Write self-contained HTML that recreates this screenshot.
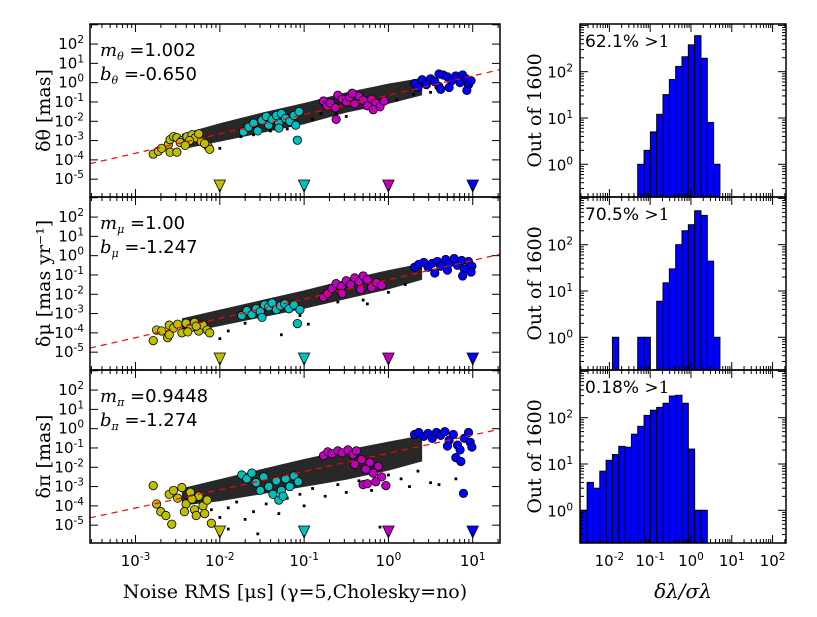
<!DOCTYPE html>
<html><head><meta charset="utf-8"><style>
html,body{margin:0;padding:0;background:#fff;}
svg{display:block;}
text{font-family:"DejaVu Sans","Liberation Sans",sans-serif;}
.serif{font-family:"DejaVu Serif","Liberation Serif",serif;}
</style></head><body>
<svg id="fig" width="817" height="617" viewBox="0 0 817 617" xmlns="http://www.w3.org/2000/svg"></svg>
<script>
// ---------- DATA ----------
const panelTitles = ["δθ [mas]", "δμ [mas yr⁻¹]", "δπ [mas]"];
const slopes = [1.002, 1.00, 0.9448];
const intercepts = [-0.650, -1.247, -1.274];
const slopeLabels = ["1.002", "1.00", "0.9448"];
const interceptLabels = ["-0.650", "-1.247", "-1.274"];
const subs = ["θ", "μ", "π"];
const markerNoise = [0.01, 0.1, 1, 10];
const markerColors = ["#bfbf00", "#00bfbf", "#bf00bf", "#0000ff"];
const xTickExp = [-3, -2, -1, 0, 1];
const yTickExp = [-5, -4, -3, -2, -1, 0, 1, 2];
// black band envelope: log10 x, offsets (decades) from fit line
const bandX = [-2.45, -2, -1.5, -1, -0.5, 0, 0.4];
const bandUp = [[0.45,0.55,0.6,0.6,0.65,0.6,0.5],[0.45,0.45,0.45,0.45,0.5,0.5,0.45],[0.5,0.55,0.6,0.65,0.65,0.6,0.55]];
const bandLo = [[-0.35,-0.4,-0.45,-0.5,-0.4,-0.45,-0.4],[-0.35,-0.4,-0.45,-0.5,-0.5,-0.5,-0.4],[-0.4,-0.6,-0.7,-0.8,-0.9,-0.9,-0.8]];
// outlier black points [log x, log y]
const blackPts = [
 [[-2.0,-3.4],[-1.75,-2.8],[-1.2,-2.4],[-0.9,-1.9],[-0.62,-1.6],[-0.5,-1.75],[0.3,-0.6],[0.5,-0.5],[-1.6,-2.7],[-1.4,-2.5],[-0.8,-1.6],[0.1,-0.9]],
 [[-2.0,-4.3],[-1.27,-4.1],[-1.05,-3.1],[-0.95,-3.55],[-0.3,-2.3],[-0.25,-2.5],[0.2,-1.5],[-1.7,-3.5],[-1.9,-3.9],[-0.6,-2.4],[0.0,-1.9]],
 [[-2.0,-4.6],[-1.9,-4.1],[-1.6,-4.3],[-1.55,-5.45],[-1.3,-4.4],[-1.0,-4.0],[-0.75,-3.5],[-0.5,-3.3],[-0.1,-5.1],[0.25,-3.0],[0.5,-2.8],[0.6,-2.9],[0.8,-2.6],[-1.9,-5.2],[-1.45,-3.9],[-0.2,-3.2],[0.15,-2.6],[-1.8,-3.8],[-1.7,-4.7],[-1.2,-3.6],[-0.9,-3.1],[-0.6,-2.9],[-0.35,-2.7],[0.0,-2.4],[0.35,-2.2],[-2.1,-4.2],[-1.05,-3.4]]
];
const yellowPts = [
 [[-2.79,-3.7],[-2.73,-3.55],[-2.69,-3.4],[-2.61,-3.2],[-2.59,-2.95],[-2.55,-2.8],[-2.51,-2.85],[-2.59,-3.6],[-2.51,-3.6],[-2.45,-3.0],[-2.39,-2.8],[-2.33,-2.7],[-2.29,-2.85],[-2.22,-3.05],[-2.14,-3.3],[-2.12,-3.45],[-2.36,-3.0],[-2.25,-2.65],[-2.18,-3.15],[-2.47,-3.1],[-2.41,-3.25]],
 [[-2.79,-4.4],[-2.75,-3.85],[-2.69,-3.9],[-2.62,-4.25],[-2.6,-3.6],[-2.55,-3.75],[-2.5,-3.55],[-2.45,-4.0],[-2.4,-3.5],[-2.35,-3.75],[-2.3,-3.45],[-2.25,-3.9],[-2.2,-3.6],[-2.15,-3.85],[-2.12,-4.0],[-2.6,-4.1],[-2.38,-3.95],[-2.28,-3.65]],
 [[-2.79,-2.95],[-2.75,-3.9],[-2.7,-4.3],[-2.64,-4.5],[-2.6,-3.4],[-2.57,-4.95],[-2.55,-3.2],[-2.5,-3.6],[-2.45,-3.05],[-2.4,-3.9],[-2.35,-3.3],[-2.3,-4.2],[-2.25,-3.5],[-2.2,-4.0],[-2.18,-4.4],[-2.15,-3.7],[-2.1,-4.9],[-2.42,-4.3],[-2.28,-4.5],[-2.33,-3.65]]
];
const cyanPts = [
 [[-1.72,-2.55],[-1.66,-2.3],[-1.6,-2.1],[-1.55,-2.5],[-1.5,-1.95],[-1.45,-1.75],[-1.42,-2.2],[-1.38,-1.9],[-1.33,-1.7],[-1.3,-2.1],[-1.27,-1.6],[-1.22,-1.85],[-1.17,-2.0],[-1.12,-1.7],[-1.1,-2.2],[-1.06,-1.5],[-1.3,-2.35],[-1.08,-2.98]],
 [[-1.74,-3.1],[-1.68,-2.85],[-1.62,-3.05],[-1.57,-2.75],[-1.52,-2.9],[-1.47,-2.55],[-1.42,-2.65],[-1.38,-2.45],[-1.33,-2.8],[-1.28,-2.6],[-1.23,-2.5],[-1.18,-2.75],[-1.12,-2.55],[-1.05,-2.8],[-1.08,-3.52],[-1.5,-3.2]],
 [[-1.74,-2.4],[-1.68,-2.6],[-1.62,-2.3],[-1.57,-2.8],[-1.52,-3.2],[-1.48,-2.5],[-1.42,-3.0],[-1.37,-3.4],[-1.33,-2.7],[-1.3,-3.7],[-1.27,-3.2],[-1.22,-2.6],[-1.17,-3.0],[-1.12,-2.45],[-1.07,-2.75],[-1.25,-3.5]]
];
const magentaPts = [
 [[-0.77,-0.95],[-0.73,-1.2],[-0.69,-1.05],[-0.63,-1.3],[-0.6,-0.65],[-0.55,-0.85],[-0.5,-1.0],[-0.46,-0.75],[-0.4,-1.1],[-0.35,-0.7],[-0.3,-0.9],[-0.25,-1.2],[-0.2,-0.85],[-0.15,-1.05],[-0.1,-1.25],[-0.05,-0.95],[-0.62,-1.9],[-0.43,-0.55],[-0.18,-1.4]],
 [[-0.77,-2.15],[-0.72,-1.95],[-0.67,-1.7],[-0.62,-1.45],[-0.56,-1.6],[-0.5,-1.3],[-0.45,-1.5],[-0.4,-1.15],[-0.35,-1.35],[-0.3,-1.05],[-0.25,-1.25],[-0.2,-1.65],[-0.14,-1.4],[-0.08,-1.55],[-0.55,-1.95],[-0.33,-1.75]],
 [[-0.77,-1.4],[-0.72,-1.2],[-0.67,-1.3],[-0.6,-1.15],[-0.55,-1.25],[-0.48,-1.1],[-0.42,-1.35],[-0.38,-1.15],[-0.32,-1.6],[-0.27,-2.1],[-0.22,-1.75],[-0.18,-2.3],[-0.12,-1.95],[-0.08,-2.5],[-0.3,-2.9],[-0.25,-2.85],[-0.15,-2.75],[-0.03,-2.95],[-0.4,-1.85]]
];
const bluePts = [
 [[0.31,-0.05],[0.35,-0.25],[0.4,0.15],[0.45,-0.1],[0.5,0.2],[0.55,0.05],[0.6,-0.2],[0.65,0.4],[0.7,0.3],[0.75,0.1],[0.8,0.35],[0.85,0.0],[0.88,0.4],[0.92,0.2],[0.95,-0.1],[0.98,0.1],[0.72,-0.25],[0.62,-0.35],[0.93,-0.4],[0.6,0.45]],
 [[0.31,-0.6],[0.36,-0.45],[0.42,-0.35],[0.47,-0.6],[0.52,-0.4],[0.58,-0.3],[0.62,-0.55],[0.68,-0.2],[0.72,-0.4],[0.78,-0.15],[0.82,-0.5],[0.87,-0.25],[0.9,-0.7],[0.95,-0.3],[0.99,-0.55],[0.88,-1.05],[0.7,-0.75],[0.55,-0.9],[0.98,-0.85]],
 [[0.31,-0.3],[0.36,-0.2],[0.42,-0.4],[0.47,-0.25],[0.52,-0.5],[0.57,-0.2],[0.62,-0.35],[0.67,-0.15],[0.72,-0.6],[0.77,-0.3],[0.82,-0.85],[0.85,-1.1],[0.8,-1.5],[0.86,-1.7],[0.9,-0.5],[0.95,-0.2],[0.97,-0.7],[0.99,-0.95],[0.89,-3.35],[0.7,-0.9]]
];
// histograms
const binStart = -2.70;   // log10 left edge of bin 0
const binWidth = 0.155;   // decades
const histTop = [0,0,0,0,0,0,0,0,0,1,2,5,12,32,68,130,210,380,600,195,8,1];
const histMid = [0,0,0,0,0,1,0,0,0,1,1,0,6,15,30,100,200,270,540,430,44,1];
const histBot = [1,4,3,7,12,16,24,23,44,65,112,145,167,205,294,305,205,21,1,1];
const histLabels = ["62.1%", "70.5%", "0.18%"];
const histXTickExp = [-2, -1, 0, 1, 2];
const histYTickExp = [0, 1, 2];

// ---------- DRAWING ----------
const NS = "http://www.w3.org/2000/svg";
const svg = document.getElementById("fig");
function mk(tag, attrs, parent) {
  const e = document.createElementNS(NS, tag);
  for (const k in attrs) e.setAttribute(k, attrs[k]);
  (parent || svg).appendChild(e);
  return e;
}
const TOPS = [24, 197, 370], H = 173;
const LX0 = 90, LX1 = 500, RX0 = 580, RX1 = 786;
const X = lx => LX0 + (lx + 3.54) * 84.3;
const Y = (i, ly) => TOPS[i] + (3.04 - ly) * 19.3;
const HX = l => RX0 + (l + 2.72) * 40.8;
const HY = (i, lv) => TOPS[i] + (3.03 - lv) * 46.3;

function tickLabel(g, x, y, exp, anchor) {
  const t = mk("text", {x: x, y: y, "font-size": 15, "text-anchor": anchor, fill: "#000"}, g);
  t.appendChild(document.createTextNode("10"));
  const s = mk("tspan", {dy: -6, "font-size": 10.5}, t);
  s.textContent = String(exp);
  return t;
}

for (let i = 0; i < 3; i++) {
  const T = TOPS[i], B = T + H;
  const g = mk("g", {});
  
  
  const clipId = "clip" + i;
  const cp = mk("clipPath", {id: clipId}, g);
  mk("rect", {x: LX0, y: T, width: LX1 - LX0, height: H}, cp);
  const data = mk("g", {"clip-path": "url(#" + clipId + ")"}, g);
  const m = slopes[i], b = intercepts[i];
  let pts = [];
  for (let k = 0; k < bandX.length; k++) pts.push(X(bandX[k]) + "," + Y(i, m * bandX[k] + b + bandUp[i][k]));
  for (let k = bandX.length - 1; k >= 0; k--) pts.push(X(bandX[k]) + "," + Y(i, m * bandX[k] + b + bandLo[i][k]));
  const band = mk("polygon", {points: pts.join(" "), fill: "#111", "fill-opacity": 0.9, stroke: "none"}, data);
  
  
  for (const p of blackPts[i]) {
    const r = mk("rect", {x: X(p[0]) - 1.4, y: Y(i, p[1]) - 1.4, width: 2.8, height: 2.8, fill: "#000"}, data);
    
    
  }
  const groups = [yellowPts[i], cyanPts[i], magentaPts[i], bluePts[i]];
  const gnames = ["yellow-point", "cyan-point", "magenta-point", "blue-point"];
  groups.forEach((arr, gi) => {
    for (const p of arr) {
      const c = mk("circle", {cx: X(p[0]), cy: Y(i, p[1]), r: 4.2, fill: markerColors[gi], stroke: "#000", "stroke-width": 0.8}, data);
      
      
    }
  });
  const fl = mk("line", {x1: X(-3.54), y1: Y(i, m * -3.54 + b), x2: X(1.32), y2: Y(i, m * 1.32 + b), stroke: "#ff0000", "stroke-width": 1.2, "stroke-dasharray": "6 5"}, data);
  
  
  markerNoise.forEach((v, k) => {
    const cx = X(Math.log10(v)), ty = T + 156;
    const tri = mk("polygon", {points: (cx - 5.7) + "," + ty + " " + (cx + 5.7) + "," + ty + " " + cx + "," + (ty + 12), fill: markerColors[k], stroke: "#000", "stroke-width": 0.8}, g);
    
    
  });
  for (let e = -4; e <= 1; e++) for (let d = 1; d <= 9; d++) {
    const lx = e + Math.log10(d);
    if (lx < -3.54 || lx > 1.32) continue;
    const len = d === 1 ? 8 : 4;
    const x = X(lx);
    mk("line", {x1: x, y1: B, x2: x, y2: B - len, stroke: "#000", "stroke-width": 1}, g);
    mk("line", {x1: x, y1: T, x2: x, y2: T + len, stroke: "#000", "stroke-width": 1}, g);
  }
  for (let e = -5; e <= 3; e++) {
    const y = Y(i, e);
    mk("line", {x1: LX0, y1: y, x2: LX0 + 8, y2: y, stroke: "#000", "stroke-width": 1}, g);
    mk("line", {x1: LX1, y1: y, x2: LX1 - 8, y2: y, stroke: "#000", "stroke-width": 1}, g);
  }
  yTickExp.forEach(e => {
    const t = tickLabel(g, 84, Y(i, e) + 5, e, "end");
    
    
  });
  mk("rect", {x: LX0, y: T, width: LX1 - LX0, height: H, fill: "none", stroke: "#000", "stroke-width": 1.5}, g);
  const a1 = mk("text", {x: 100, y: T + 32, "font-size": 18}, g);
  
  
  a1.innerHTML = '<tspan class="serif" font-style="italic">m</tspan><tspan class="serif" font-style="italic" font-size="11" dy="4">' + subs[i] + '</tspan><tspan dy="-4"> =' + slopeLabels[i] + '</tspan>';
  const a2 = mk("text", {x: 100, y: T + 56, "font-size": 18}, g);
  
  
  a2.innerHTML = '<tspan class="serif" font-style="italic">b</tspan><tspan class="serif" font-style="italic" font-size="11" dy="4">' + subs[i] + '</tspan><tspan dy="-4"> =' + interceptLabels[i] + '</tspan>';
  const yl = mk("text", {x: 0, y: 0, "font-size": 19, "text-anchor": "middle", class: "serif", transform: "translate(50," + (T + H / 2) + ") rotate(-90)"}, g);
  yl.textContent = panelTitles[i];
  
  
}
xTickExp.forEach(e => {
  const t = tickLabel(svg, X(e), 566, e, "middle");
  
  
});
const xl = mk("text", {x: 295, y: 598, "font-size": 19, "text-anchor": "middle", class: "serif"});
xl.textContent = "Noise RMS [μs] (γ=5,Cholesky=no)";



const hists = [histTop, histMid, histBot];
for (let i = 0; i < 3; i++) {
  const T = TOPS[i], B = T + H;
  const g = mk("g", {});
  
  
  hists[i].forEach((v, k) => {
    if (v <= 0) return;
    const x0 = HX(binStart + k * binWidth), x1 = HX(binStart + (k + 1) * binWidth);
    const y = HY(i, Math.log10(v));
    const r = mk("rect", {x: x0, y: y, width: x1 - x0, height: B - y, fill: "#0000ff", stroke: "#000", "stroke-width": 1}, g);
    
    
  });
  for (let e = -3; e <= 2; e++) for (let d = 1; d <= 9; d++) {
    const lx = e + Math.log10(d);
    if (lx < -2.72 || lx > 2.33) continue;
    const len = d === 1 ? 8 : 4, x = HX(lx);
    mk("line", {x1: x, y1: B, x2: x, y2: B - len, stroke: "#000", "stroke-width": 1}, g);
    mk("line", {x1: x, y1: T, x2: x, y2: T + len, stroke: "#000", "stroke-width": 1}, g);
  }
  for (let e = -1; e <= 3; e++) for (let d = 1; d <= 9; d++) {
    const lv = e + Math.log10(d);
    if (lv < -0.68 || lv > 3.03) continue;
    const len = d === 1 ? 8 : 4, y = HY(i, lv);
    mk("line", {x1: RX0, y1: y, x2: RX0 + len, y2: y, stroke: "#000", "stroke-width": 1}, g);
    mk("line", {x1: RX1, y1: y, x2: RX1 - len, y2: y, stroke: "#000", "stroke-width": 1}, g);
  }
  histYTickExp.forEach(e => {
    const t = tickLabel(g, 573, HY(i, e) + 6, e, "end");
    
    
  });
  mk("rect", {x: RX0, y: T, width: RX1 - RX0, height: H, fill: "none", stroke: "#000", "stroke-width": 1.5}, g);
  const lab = mk("text", {x: 585, y: T + 23, "font-size": 17}, g);
  lab.innerHTML = histLabels[i] + ' <tspan class="serif">&gt;1</tspan>';
  
  
  const yl = mk("text", {x: 0, y: 0, "font-size": 19, "text-anchor": "middle", class: "serif", transform: "translate(541," + (T + H / 2) + ") rotate(-90)"}, g);
  yl.textContent = "Out of 1600";
  
  
}
histXTickExp.forEach(e => {
  const t = tickLabel(svg, HX(e), 566, e, "middle");
  
  
});
const hxl = mk("text", {x: 683, y: 598, "font-size": 20, "text-anchor": "middle", class: "serif", "font-style": "italic"});
hxl.textContent = "δλ/σλ";


</script>
</body></html>
